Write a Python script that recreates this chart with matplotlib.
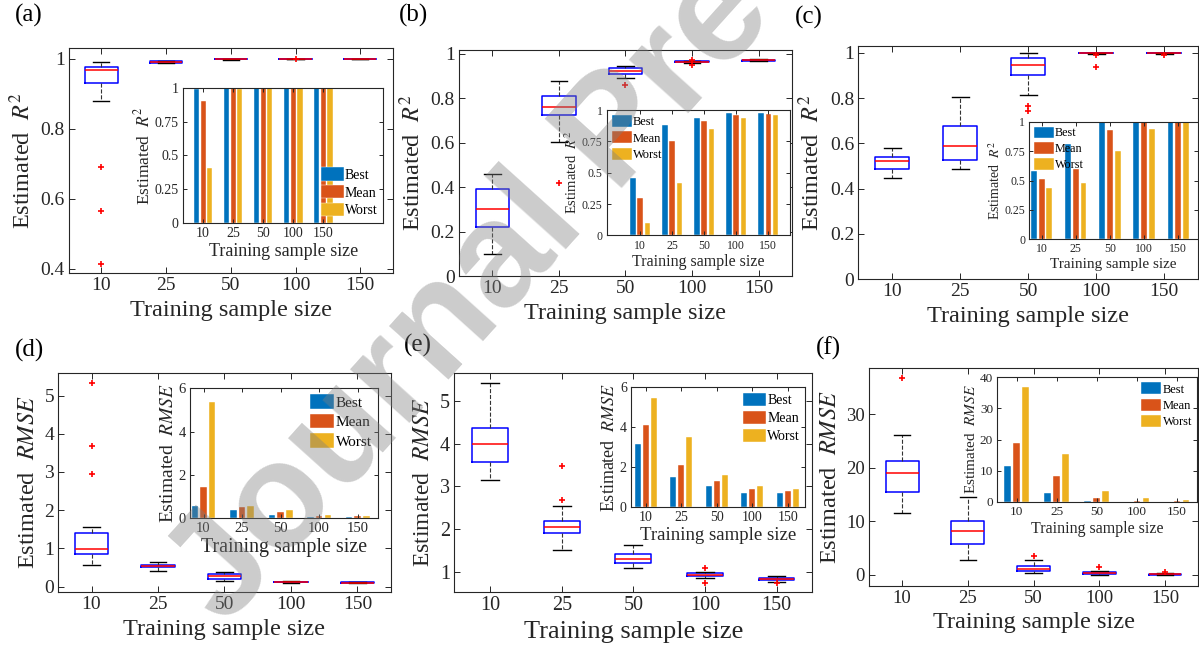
import numpy as np
import matplotlib
matplotlib.use('Agg')
import matplotlib.pyplot as plt

plt.rcParams['font.family'] = ['Liberation Serif', 'DejaVu Serif']
plt.rcParams['mathtext.fontset'] = 'stix'

# Data
sizes = ['10', '25', '50', '100', '150']

# (a) R^2 boxplots
a_q1 = [0.930, 0.988, 0.998, 0.9995, 0.9995]
a_med = [0.968, 0.990, 0.999, 1.000, 1.000]
a_q3 = [0.975, 0.992, 1.000, 1.000, 1.000]
a_lo = [0.880, 0.986, 0.997, 0.999, 0.999]
a_hi = [0.990, 0.993, 1.000, 1.000, 1.000]
a_fliers = [[0.69, 0.565, 0.415], [], [], [1.0], []]
a_best = [0.99, 1.0, 1.0, 1.0, 1.0]
a_mean = [0.90, 1.0, 1.0, 1.0, 1.0]
a_worst = [0.41, 0.99, 1.0, 1.0, 1.0]

# (b) R^2 boxplots
b_q1 = [0.22, 0.725, 0.912, 0.962, 0.970]
b_med = [0.30, 0.763, 0.922, 0.965, 0.972]
b_q3 = [0.39, 0.810, 0.935, 0.967, 0.975]
b_lo = [0.10, 0.605, 0.890, 0.958, 0.967]
b_hi = [0.46, 0.880, 0.945, 0.970, 0.977]
b_fliers = [[], [0.42], [0.86], [0.95, 0.975], []]
b_best = [0.46, 0.88, 0.94, 0.98, 0.98]
b_mean = [0.30, 0.75, 0.91, 0.96, 0.97]
b_worst = [0.10, 0.42, 0.85, 0.94, 0.96]

# (c) R^2 boxplots
c_q1 = [0.485, 0.527, 0.902, 0.997, 0.997]
c_med = [0.520, 0.590, 0.945, 0.999, 0.999]
c_q3 = [0.540, 0.675, 0.975, 1.000, 1.000]
c_lo = [0.445, 0.488, 0.815, 0.995, 0.995]
c_hi = [0.578, 0.805, 1.000, 1.000, 1.000]
c_fliers = [[], [], [0.765, 0.745], [0.99, 0.935], [0.99]]
c_best = [0.58, 0.81, 1.0, 1.0, 1.0]
c_mean = [0.51, 0.60, 0.93, 1.0, 1.0]
c_worst = [0.44, 0.48, 0.75, 0.94, 1.0]

# (d) RMSE boxplots
d_q1 = [0.85, 0.50, 0.20, 0.11, 0.09]
d_med = [0.98, 0.53, 0.28, 0.12, 0.10]
d_q3 = [1.40, 0.57, 0.32, 0.13, 0.11]
d_lo = [0.57, 0.42, 0.14, 0.10, 0.08]
d_hi = [1.55, 0.63, 0.38, 0.15, 0.12]
d_fliers = [[5.33, 3.67, 2.95], [], [], [], []]
d_best = [0.55, 0.38, 0.15, 0.08, 0.07]
d_mean = [1.45, 0.50, 0.27, 0.12, 0.10]
d_worst = [5.35, 0.58, 0.37, 0.15, 0.12]

# (e) RMSE boxplots
e_q1 = [3.57, 1.90, 1.20, 0.90, 0.80]
e_med = [4.00, 2.05, 1.30, 0.93, 0.83]
e_q3 = [4.37, 2.20, 1.42, 0.96, 0.85]
e_lo = [3.15, 1.52, 1.08, 0.86, 0.76]
e_hi = [5.42, 2.55, 1.62, 1.00, 0.90]
e_fliers = [[], [3.47, 2.68], [], [1.08, 0.74], [0.74]]
e_best = [3.15, 1.50, 1.05, 0.70, 0.70]
e_mean = [4.08, 2.08, 1.28, 0.88, 0.80]
e_worst = [5.45, 3.48, 1.60, 1.05, 0.88]

# (f) RMSE boxplots
f_q1 = [15.5, 5.8, 0.8, 0.10, 0.05]
f_med = [19.0, 8.3, 1.2, 0.30, 0.15]
f_q3 = [21.3, 10.0, 1.7, 0.50, 0.25]
f_lo = [11.6, 2.8, 0.3, 0.00, 0.00]
f_hi = [26.1, 14.5, 2.8, 0.70, 0.40]
f_fliers = [[36.7], [], [3.6], [1.4], [0.5]]
f_best = [11.5, 2.7, 0.1, 0.05, 0.02]
f_mean = [19.0, 8.2, 1.3, 0.20, 0.10]
f_worst = [36.8, 15.3, 3.5, 1.30, 0.50]

colors = ['#0072BD', '#D95319', '#EDB120']
axis_color = '#262626'


def make_stats(q1, med, q3, lo, hi, fliers):
    return [dict(q1=q1[i], med=med[i], q3=q3[i], whislo=lo[i], whishi=hi[i],
                 fliers=fliers[i]) for i in range(len(med))]


def style_axes(ax, tick_size, length):
    ax.tick_params(direction='in', top=True, right=True, labelsize=tick_size,
                   length=length, width=0.7, colors=axis_color, pad=3)
    for s in ax.spines.values():
        s.set_color(axis_color)
        s.set_linewidth(0.8)


def draw_box(ax, stats, ylim, yticks, yticklabels, ylabel, fs):
    ax.bxp(stats, positions=range(1, 6), widths=0.5, showfliers=True,
           boxprops=dict(color='#0000FF', linewidth=1.1),
           medianprops=dict(color='#FF0000', linewidth=1.1),
           whiskerprops=dict(color='#333333', linewidth=0.8, linestyle='--'),
           capprops=dict(color='black', linewidth=1.0),
           flierprops=dict(marker='+', markeredgecolor='#FF0000',
                           markersize=5, markeredgewidth=1.2))
    ax.set_xlim(0.5, 5.5)
    ax.set_ylim(*ylim)
    ax.set_yticks(yticks)
    ax.set_yticklabels(yticklabels)
    ax.set_xticks(range(1, 6))
    ax.set_xticklabels(sizes)
    ax.set_xlabel('Training sample size', fontsize=fs['xl'], color=axis_color)
    ax.set_ylabel(ylabel, fontsize=fs['yl'], color=axis_color)
    style_axes(ax, fs['tick'], 4)


def draw_inset(fig, rect, best, mean, worst, xlim, ylim, yticks, yticklabels,
               ylabel, legend_loc, fs):
    ax = fig.add_axes(rect)
    ax.set_facecolor('white')
    x = np.arange(1, 6)
    w = 0.17
    off = 0.225
    for vals, c, lab, dx in zip([best, mean, worst], colors,
                                ['Best', 'Mean', 'Worst'], [-off, 0, off]):
        ax.bar(x + dx, vals, width=w, color=c, edgecolor='white',
               linewidth=0.3, label=lab)
    ax.set_xlim(*xlim)
    ax.set_ylim(*ylim)
    ax.set_yticks(yticks)
    ax.set_yticklabels(yticklabels)
    ax.set_xticks(x)
    ax.set_xticklabels(sizes)
    ax.set_xlabel('Training sample size', fontsize=fs['xl'], color=axis_color,
                  labelpad=2)
    ax.set_ylabel(ylabel, fontsize=fs['yl'], color=axis_color, labelpad=1)
    style_axes(ax, fs['tick'], 3)
    ax.legend(loc=legend_loc, frameon=False, fontsize=fs['leg'],
              handlelength=1.6, handleheight=1.1, handletextpad=0.1,
              labelspacing=0.25, borderaxespad=0.2, borderpad=0.2)
    return ax


def main():
    fig = plt.figure(figsize=(11.99, 6.51), dpi=100)

    r2_label = r'Estimated  $R^2$'
    rmse_label = r'Estimated  $\mathit{RMSE}$'
    r2_ticks = [0, 0.25, 0.5, 0.75, 1]
    r2_tlabels = ['0', '0.25', '0.5', '0.75', '1']

    main_fs = dict(tick=14, xl=17.5, yl=17.5)

    # (a)
    ax = fig.add_axes([0.0575, 0.5806, 0.2700, 0.3456])
    draw_box(ax, make_stats(a_q1, a_med, a_q3, a_lo, a_hi, a_fliers),
             (0.388, 1.03), [0.4, 0.6, 0.8, 1], ['0.4', '0.6', '0.8', '1'],
             r2_label, main_fs)
    draw_inset(fig, [0.1526, 0.6575, 0.1671, 0.2074], a_best, a_mean, a_worst,
               (0.33, 7.0), (0, 1), r2_ticks, r2_tlabels, r2_label,
               'lower right', dict(tick=10, xl=13, yl=12.5, leg=10))

    # (b)
    ax = fig.add_axes([0.3828, 0.5760, 0.2777, 0.3472])
    draw_box(ax, make_stats(b_q1, b_med, b_q3, b_lo, b_hi, b_fliers),
             (0, 1.018), [0, 0.2, 0.4, 0.6, 0.8, 1],
             ['0', '0.2', '0.4', '0.6', '0.8', '1'], r2_label, main_fs)
    draw_inset(fig, [0.5060, 0.6385, 0.1529, 0.1925], b_best, b_mean, b_worst,
               (-0.04, 5.68), (0, 1), r2_ticks, r2_tlabels, r2_label,
               'upper left', dict(tick=8.5, xl=11.5, yl=10.5, leg=9))

    # (c)
    ax = fig.add_axes([0.7159, 0.5710, 0.2833, 0.3584])
    draw_box(ax, make_stats(c_q1, c_med, c_q3, c_lo, c_hi, c_fliers),
             (0, 1.03), [0, 0.2, 0.4, 0.6, 0.8, 1],
             ['0', '0.2', '0.4', '0.6', '0.8', '1'], r2_label, main_fs)
    draw_inset(fig, [0.8585, 0.6324, 0.1407, 0.1806], c_best, c_mean, c_worst,
               (0.64, 5.58), (0, 1), r2_ticks, r2_tlabels, r2_label,
               'upper left', dict(tick=8.5, xl=11, yl=10, leg=8.7))

    # (d)
    ax = fig.add_axes([0.0486, 0.0902, 0.2772, 0.3373])
    draw_box(ax, make_stats(d_q1, d_med, d_q3, d_lo, d_hi, d_fliers),
             (-0.15, 5.6), range(6), [str(v) for v in range(6)],
             rmse_label, main_fs)
    draw_inset(fig, [0.1585, 0.2038, 0.1565, 0.1997], d_best, d_mean, d_worst,
               (0.65, 5.52), (0, 6), [0, 2, 4, 6], ['0', '2', '4', '6'],
               rmse_label, 'upper right', dict(tick=10.5, xl=14.4, yl=14, leg=11))

    # (e)
    ax = fig.add_axes([0.3789, 0.0902, 0.2986, 0.3364])
    draw_box(ax, make_stats(e_q1, e_med, e_q3, e_lo, e_hi, e_fliers),
             (0.52, 5.65), [1, 2, 3, 4, 5], ['1', '2', '3', '4', '5'],
             rmse_label, dict(tick=14.5, xl=19, yl=17))
    draw_inset(fig, [0.5263, 0.2217, 0.1454, 0.1834], e_best, e_mean, e_worst,
               (0.59, 5.5), (0, 6), [0, 2, 4, 6], ['0', '2', '4', '6'],
               rmse_label, 'upper right', dict(tick=10, xl=13.5, yl=13, leg=10))

    # (f)
    ax = fig.add_axes([0.7250, 0.1003, 0.2741, 0.3340])
    draw_box(ax, make_stats(f_q1, f_med, f_q3, f_lo, f_hi, f_fliers),
             (-2, 38.6), [0, 10, 20, 30], ['0', '10', '20', '30'],
             rmse_label, dict(tick=13.5, xl=17.5, yl=17.5))
    draw_inset(fig, [0.8318, 0.2293, 0.1666, 0.1911], f_best, f_mean, f_worst,
               (0.52, 5.5), (0, 40), [0, 10, 20, 30, 40],
               ['0', '10', '20', '30', '40'], rmse_label, 'upper right',
               dict(tick=9.5, xl=11.5, yl=11, leg=9))

    # panel letters
    for lab, x, y in [('(a)', 29, 15), ('(b)', 413, 15), ('(c)', 809, 17),
                      ('(d)', 30, 350), ('(e)', 418, 345), ('(f)', 828, 348)]:
        fig.text(x / 1199, 1 - y / 651, lab, fontsize=18, ha='center',
                 va='center', color='black')

    # watermark
    fig.text(225 / 1199, 1 - 628 / 651, 'Journal Pre-proof',
             family='Liberation Sans', fontsize=108, fontweight='bold',
             color='0.5', alpha=0.4, rotation=48, rotation_mode='anchor',
             ha='left', va='baseline', zorder=10)

    fig.savefig('out.png', dpi=100)


if __name__ == "__main__":
    main()
